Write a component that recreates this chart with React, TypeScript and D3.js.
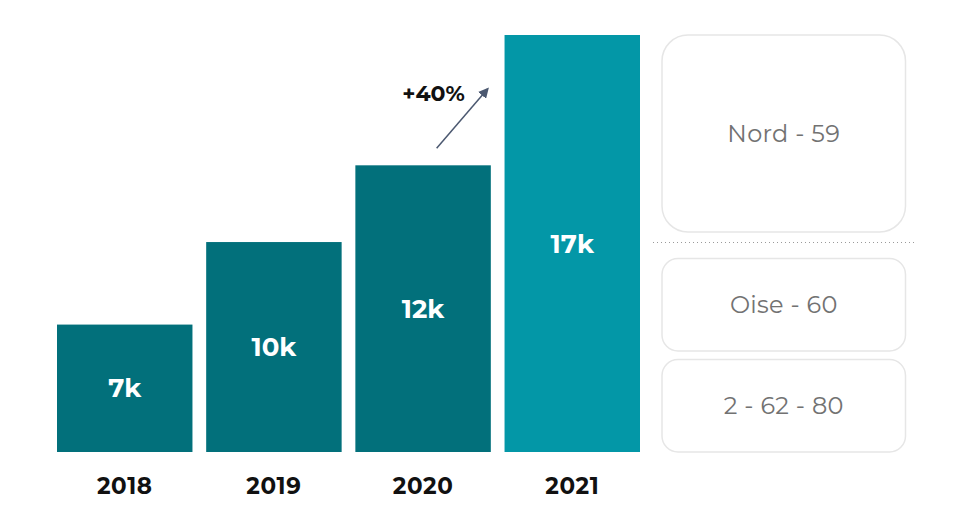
import React from "react";
import * as d3 from "d3";

const years = ["2018", "2019", "2020", "2021"];
const values = [7.0, 9.85, 12.5, 17.0]; // in thousands
const valueLabels = ["7k", "10k", "12k", "17k"];
const barColors = ["#02707B", "#02707B", "#02707B", "#0397A7"];
const growthLabel = "+40%";
const regions = ["Nord - 59", "Oise - 60", "2 - 62 - 80"];

const W = 976;
const H = 513;
const FONT = "Montserrat, Inter, 'Open Sans', sans-serif";

export default function App() {
  const x = d3.scaleBand<string>().domain(years).range([57, 640]).paddingInner(0.092).paddingOuter(0);
  const y = d3.scaleLinear().domain([2.6, 17]).range([452, 35]);

  const last = years[years.length - 1];
  const prev = years[years.length - 2];
  const arrowX1 = (x(prev) as number) + x.bandwidth() * 0.6;
  const arrowY1 = y(values[2]) - 17;
  const arrowX2 = (x(last) as number) - 17;
  const arrowY2 = y(values[3]) + 54;

  const boxes = [
    { y0: 35, y1: 232, r: 26 },
    { y0: 258.5, y1: 351, r: 16 },
    { y0: 359.5, y1: 452, r: 16 },
  ];

  return (
    <svg width={W} height={H} style={{ position: "absolute", left: 0, top: 0, background: "#fff" }}>
      <defs>
        <marker id="arr" viewBox="0 0 10 10" refX="8" refY="5" markerWidth="7" markerHeight="7" orient="auto">
          <path d="M0,0 L10,5 L0,10 z" fill="#4B5870" />
        </marker>
      </defs>
      {years.map((yr, i) => {
        const bx = x(yr) as number;
        const top = y(values[i]);
        return (
          <g key={yr}>
            <rect x={bx} y={top} width={x.bandwidth()} height={y.range()[0] - top} fill={barColors[i]} />
            <text
              x={bx + x.bandwidth() / 2}
              y={(top + y.range()[0]) / 2}
              textAnchor="middle"
              dominantBaseline="central"
              fill="#fff"
              fontFamily={FONT}
              fontWeight={700}
              fontSize={26}
            >
              {valueLabels[i]}
            </text>
            <text
              x={bx + x.bandwidth() / 2}
              y={486}
              textAnchor="middle"
              dominantBaseline="central"
              fill="#111"
              fontFamily={FONT}
              fontWeight={700}
              fontSize={23}
              letterSpacing={0.6}
            >
              {yr}
            </text>
          </g>
        );
      })}
      <line
        x1={arrowX1}
        y1={arrowY1}
        x2={arrowX2}
        y2={arrowY2}
        stroke="#4B5870"
        strokeWidth={1.5}
        markerEnd="url(#arr)"
      />
      <text
        x={433.5}
        y={93}
        textAnchor="middle"
        dominantBaseline="central"
        fill="#111"
        fontFamily={FONT}
        fontWeight={700}
        fontSize={22}
      >
        {growthLabel}
      </text>
      <line x1={653} x2={917} y1={242.5} y2={242.5} stroke="#9a9a9a" strokeWidth={1} strokeDasharray="1 3" />
      {regions.map((r, i) => {
        const b = boxes[i];
        return (
          <g key={r}>
            <rect
              x={662}
              y={b.y0}
              width={243.5}
              height={b.y1 - b.y0}
              rx={b.r}
              ry={b.r}
              fill="#fff"
              stroke="#E6E6E6"
              strokeWidth={1.5}
            />
            <text
              x={662 + 243.5 / 2}
              y={(b.y0 + b.y1) / 2}
              textAnchor="middle"
              dominantBaseline="central"
              fill="#727272"
              fontFamily={FONT}
              fontWeight={400}
              fontSize={24}
              letterSpacing={0.3}
            >
              {r}
            </text>
          </g>
        );
      })}
    </svg>
  );
}
